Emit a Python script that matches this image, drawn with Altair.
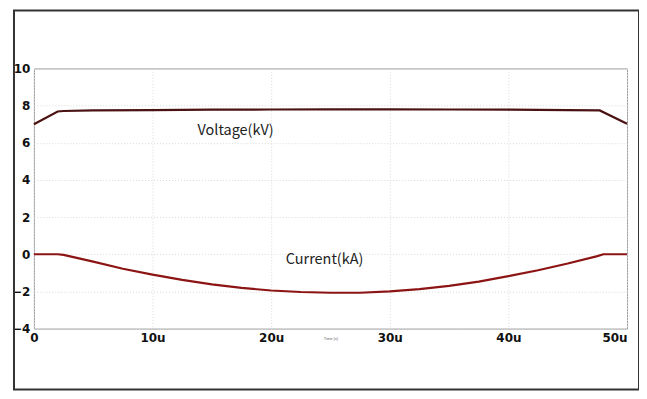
import altair as alt
import pandas as pd

# time in microseconds
v_time = [0, 2.0, 2.5, 5, 10, 15, 20, 25, 30, 35, 40, 45, 47.7, 50]
v_vals = [7.0, 7.68, 7.71, 7.74, 7.76, 7.78, 7.79, 7.8, 7.8, 7.79, 7.78, 7.76, 7.74, 7.02]

i_time = [0, 2.0, 2.5, 5, 7.5, 10, 12.5, 15, 17.5, 20, 22.5, 25, 27.5, 30, 32.5, 35, 37.5,
          40, 42.5, 45, 47.5, 48.0, 50]
i_vals = [0, 0, -0.03, -0.4, -0.78, -1.1, -1.38, -1.62, -1.81, -1.95, -2.03, -2.07, -2.07,
          -2.0, -1.88, -1.7, -1.47, -1.18, -0.86, -0.5, -0.1, 0, 0]

label_text = ["Voltage(kV)", "Current(kA)"]
label_x = [17.0, 24.5]
label_y = [6.62, -0.3]

x_ticks = [0, 10, 20, 30, 40, 50]
y_ticks = [-4, -2, 0, 2, 4, 6, 8, 10]

v_df = pd.DataFrame({"t": v_time, "val": v_vals})
i_df = pd.DataFrame({"t": i_time, "val": i_vals})
lab_df = pd.DataFrame({"text": label_text, "t": label_x, "val": label_y})

xs = alt.Scale(domain=[0, 50], nice=False, zero=False)
ys = alt.Scale(domain=[-4, 10], nice=False, zero=False)

x_axis = alt.Axis(
    values=x_ticks,
    labelExpr="datum.value == 0 ? '0' : datum.value + 'u'",
    labelFont="DejaVu Sans", labelFontWeight="bold", labelFontSize=12, labelColor="#111",
    labelAlign={"condition": {"test": "datum.value == 50", "value": "right"}, "value": "center"},
    labelPadding=4, ticks=False, domain=False, labelOverlap=False,
    grid=True, gridColor="#d8d8d8", gridDash=[1, 2],
    title="Time (s)", titleFontSize=4, titleFontWeight="normal", titleColor="#666",
    titleY=8,
)
y_axis = alt.Axis(
    values=y_ticks,
    labelFont="DejaVu Sans", labelFontWeight="bold", labelFontSize=12, labelColor="#111",
    labelPadding=4, ticks=False, domain=False, labelOverlap=False,
    grid=True, gridColor="#d8d8d8", gridDash=[1, 2],
    title=None,
)

enc_x = alt.X("t:Q", scale=xs, axis=x_axis)
enc_y = alt.Y("val:Q", scale=ys, axis=y_axis)

volt = alt.Chart(v_df).mark_line(color="#4a1212", strokeWidth=2.2).encode(x=enc_x, y=enc_y)
curr = alt.Chart(i_df).mark_line(color="#8c1414", strokeWidth=2.2).encode(x=enc_x, y=enc_y)

labels = alt.Chart(lab_df).mark_text(
    font="Noto Sans CJK KR", fontSize=14.5, color="#222", align="center", baseline="middle"
).encode(x=enc_x, y=enc_y, text="text:N")

frame = alt.Chart(pd.DataFrame({"a": [0]})).mark_rect(
    fill=None, stroke="#333", strokeWidth=2, clip=False
).encode(x=alt.value(-20), x2=alt.value(607), y=alt.value(-58), y2=alt.value(322))

chart = alt.layer(volt, curr, labels, frame).properties(
    width=595, height=261,
    autosize=alt.AutoSizeParams(type="none"),
    padding={"left": 26, "top": 60, "right": 12, "bottom": 62},
).configure_view(stroke="#9a9a9a", strokeWidth=1)

chart.save("out.html", embed_options={"renderer": "svg", "actions": False})
